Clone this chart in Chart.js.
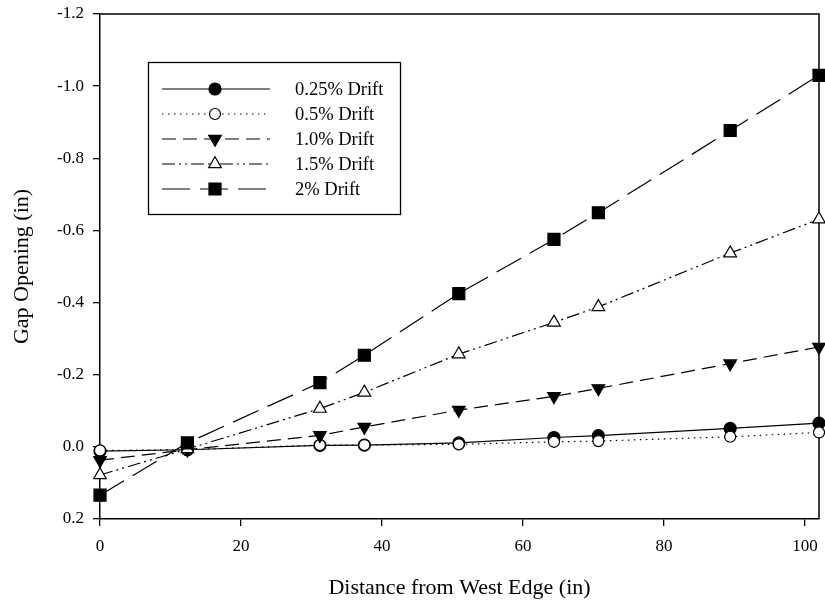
<!DOCTYPE html>
<html>
<head>
<meta charset="utf-8">
<script src="https://cdn.jsdelivr.net/npm/chart.js@4.4.1/dist/chart.umd.min.js"></script>
<style>
  html, body { margin: 0; padding: 0; background: #fff; }
  #wrap { width: 825px; height: 611px; }
</style>
</head>
<body>
<div id="wrap"><canvas id="chart" width="825" height="611"></canvas></div>
<script>
"use strict"

// distance from west edge (in)
const distance = [0, 12.4, 31.2, 37.5, 50.9, 64.4, 70.7, 89.4, 102]

// gap opening (in) per drift level
const drift025 = [0.012, 0.008, -0.004, -0.005, -0.011, -0.026, -0.031, -0.051, -0.066]
const drift05  = [0.010, 0.008, -0.005, -0.005, -0.007, -0.014, -0.016, -0.028, -0.040]
const drift10  = [0.037, 0.008, -0.032, -0.055, -0.102, -0.140, -0.162, -0.231, -0.277]
const drift15  = [0.078, 0.006, -0.106, -0.151, -0.257, -0.345, -0.388, -0.537, -0.631]
const drift20  = [0.134, -0.011, -0.178, -0.254, -0.425, -0.575, -0.649, -0.877, -1.030]

const seriesNames = ['0.25% Drift', '0.5% Drift', '1.0% Drift', '1.5% Drift', '2% Drift']

const xTicks = [0, 20, 40, 60, 80, 100]
const yTicks = [0.2, 0.0, -0.2, -0.4, -0.6, -0.8, -1.0, -1.2]

const FONT = 'Liberation Serif, Times New Roman, serif'

function pts(values) {
	return distance.map((x, i) => ({ x: x, y: values[i] }))
}

function series(i, values, style) {
	return Object.assign({
		label: seriesNames[i],
		data: pts(values),
		showLine: true,
		borderColor: '#000',
		borderWidth: 1.2,
		pointBorderColor: '#000',
		pointBorderWidth: 1.2,
		clip: false,
		order: 4 - i
	}, style)
}

// drop the extra room chart.js keeps for edge labels
function noEdgePadding(s) {
	s.paddingTop = 0
	s.paddingBottom = 0
	s.paddingLeft = 0
	s.paddingRight = 0
}

// box around the plot (top and right edges)
const frame = {
	id: 'frame',
	beforeDatasetsDraw(chart) {
		const a = chart.chartArea
		const ctx = chart.ctx
		ctx.save()
		ctx.strokeStyle = '#000'
		ctx.lineWidth = 1.5
		ctx.beginPath()
		ctx.moveTo(a.left, a.top)
		ctx.lineTo(a.right, a.top)
		ctx.lineTo(a.right, a.bottom)
		ctx.stroke()
		ctx.restore()
	}
}

// SigmaPlot style legend: line sample with the marker in the middle
const legendBox = {
	id: 'legendBox',
	afterDraw(chart) {
		const ctx = chart.ctx
		ctx.save()
		ctx.fillStyle = '#fff'
		ctx.fillRect(148, 62, 252, 152)
		ctx.strokeStyle = '#000'
		ctx.lineWidth = 1.3
		ctx.strokeRect(148.5, 62.5, 252, 152)
		chart.data.datasets.forEach((ds, i) => {
			const y = 89 + i * 25
			ctx.strokeStyle = '#000'
			ctx.lineWidth = ds.borderWidth
			ctx.setLineDash(ds.borderDash || [])
			ctx.beginPath()
			ctx.moveTo(162, y)
			ctx.lineTo(270, y)
			ctx.stroke()
			ctx.setLineDash([])
			ctx.fillStyle = ds.pointBackgroundColor
			ctx.lineWidth = ds.pointBorderWidth
			Chart.helpers.drawPoint(ctx, {
				pointStyle: ds.pointStyle,
				radius: ds.pointRadius,
				rotation: ds.pointRotation || 0,
				borderWidth: ds.pointBorderWidth
			}, 215, y)
			ctx.fillStyle = '#000'
			ctx.font = '18.5px ' + FONT
			ctx.textBaseline = 'middle'
			ctx.textAlign = 'left'
			ctx.fillText(ds.label, 295, y + 1)
		})
		ctx.restore()
	}
}

new Chart(document.getElementById('chart'), {
	type: 'scatter',
	data: {
		datasets: [
			series(0, drift025, { pointStyle: 'circle', pointRadius: 6, pointBackgroundColor: '#000' }),
			series(1, drift05, { pointStyle: 'circle', pointRadius: 5.5, pointBackgroundColor: '#fff', borderDash: [1.5, 4.5] }),
			series(2, drift10, { pointStyle: 'triangle', pointRotation: 180, pointRadius: 7.3, pointBackgroundColor: '#000', borderDash: [14, 7] }),
			series(3, drift15, { pointStyle: 'triangle', pointRadius: 7.3, pointBackgroundColor: '#fff', borderDash: [13, 4, 2, 4, 2, 4] }),
			series(4, drift20, { pointStyle: 'rect', pointRadius: 8.5, pointBackgroundColor: '#000', borderDash: [28, 10] })
		]
	},
	options: {
		responsive: false,
		animation: false,
		layout: { autoPadding: false, padding: { top: 14, right: 6, left: 0, bottom: 0 } },
		plugins: {
			legend: { display: false },
			tooltip: { enabled: false }
		},
		scales: {
			x: {
				type: 'linear',
				min: 0,
				max: 102,
				afterBuildTicks: s => { s.ticks = xTicks.map(v => ({ value: v })) },
				afterFit: s => { s.height = 92; noEdgePadding(s) },
				border: { display: true, color: '#000', width: 1.5 },
				grid: { drawOnChartArea: false, drawTicks: true, tickLength: 7, color: '#000', lineWidth: 1.3 },
				ticks: {
					color: '#000',
					font: { family: FONT, size: 17 },
					padding: 10,
					maxRotation: 0,
					callback: v => String(v)
				},
				title: {
					display: true,
					text: 'Distance from West Edge (in)',
					color: '#000',
					font: { family: FONT, size: 22 },
					padding: { top: 0, bottom: 10 }
				}
			},
			y: {
				type: 'linear',
				min: -1.2,
				max: 0.2,
				reverse: true,
				afterBuildTicks: s => { s.ticks = yTicks.map(v => ({ value: v })) },
				afterFit: s => { s.width = 100; noEdgePadding(s) },
				border: { display: true, color: '#000', width: 1.5 },
				grid: { drawOnChartArea: false, drawTicks: true, tickLength: 7, color: '#000', lineWidth: 1.3 },
				ticks: {
					color: '#000',
					font: { family: FONT, size: 17 },
					padding: 9,
					callback: v => (Math.abs(v) < 1e-9 ? 0 : v).toFixed(1)
				},
				title: {
					display: true,
					text: 'Gap Opening (in)',
					color: '#000',
					font: { family: FONT, size: 22 },
					padding: { top: 9, bottom: 0 }
				}
			}
		}
	},
	plugins: [frame, legendBox]
})
</script>
</body>
</html>
